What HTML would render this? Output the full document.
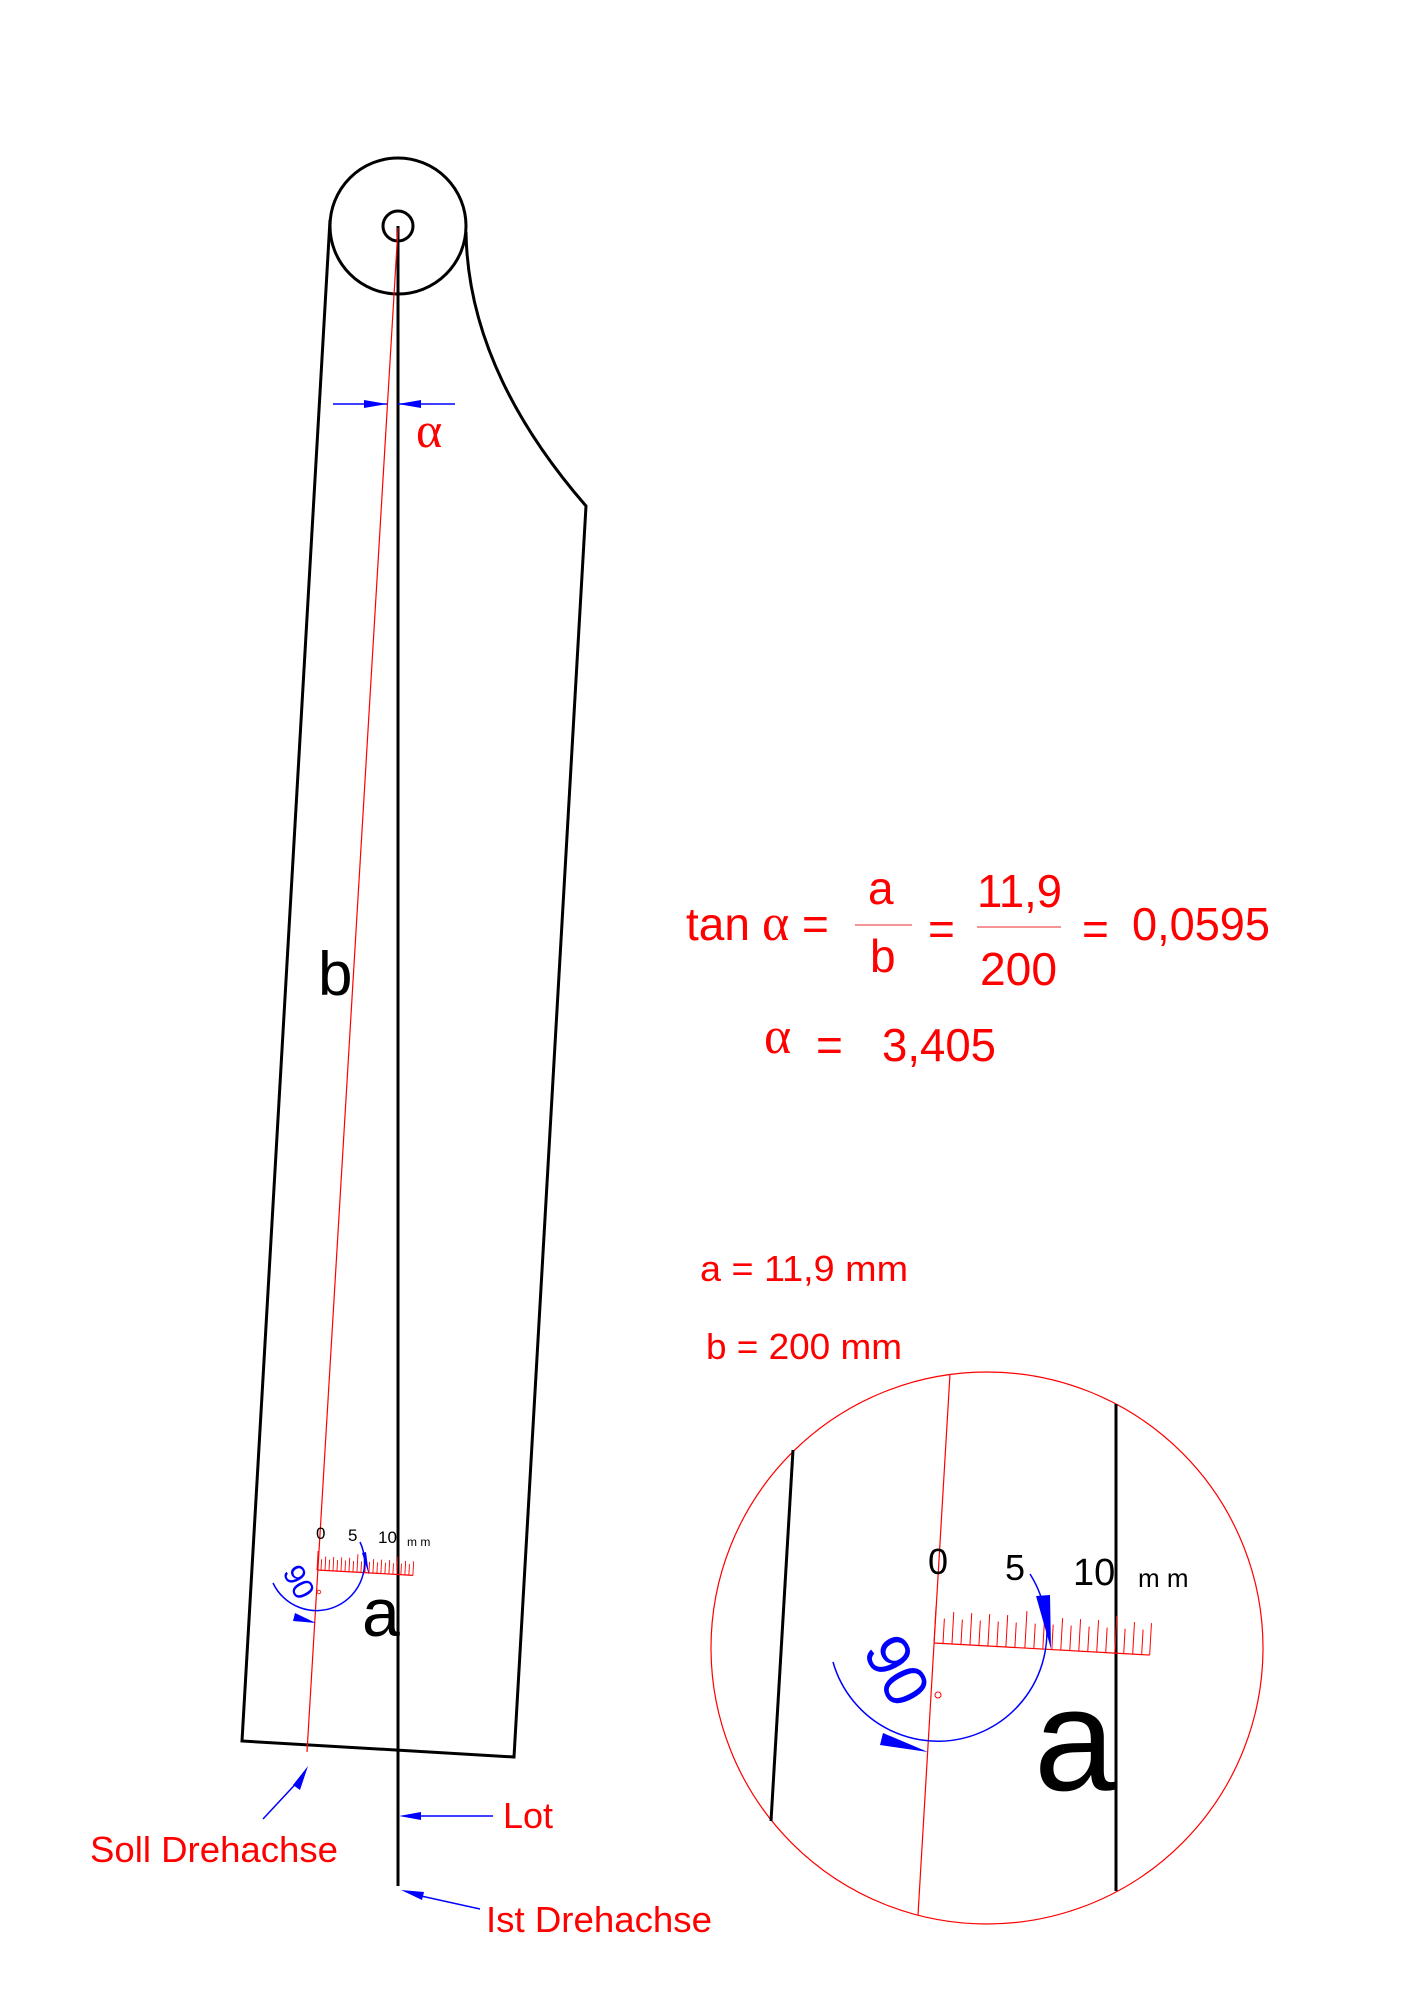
<!DOCTYPE html>
<html><head><meta charset="utf-8"><style>
html,body{margin:0;padding:0;background:#fff;}
svg{display:block;}
text{font-family:"Liberation Sans",Arial,sans-serif;}
</style></head><body>
<svg width="1414" height="2000" viewBox="0 0 1414 2000" xmlns="http://www.w3.org/2000/svg">
<rect width="1414" height="2000" fill="#fff"/>
<g fill="none" stroke="#000" stroke-width="3">
<circle cx="398" cy="226" r="68"/>
<circle cx="398" cy="226" r="15"/>
<path d="M330,220 L242,1741 L514,1757 L586,506 Q468,370 466,232"/>
<line x1="398" y1="226" x2="398" y2="1886"/>
</g>
<line x1="398" y1="228" x2="307" y2="1752" stroke="#f00" stroke-width="1.2"/>
<g stroke="#00f" stroke-width="1.5" fill="#00f">
<line x1="333" y1="404" x2="387" y2="404"/>
<polygon points="364,400 387,404 364,408" stroke="none"/>
<line x1="398" y1="404" x2="455" y2="404"/>
<polygon points="421,400 398,404 421,408" stroke="none"/>
</g>
<text x="416" y="447" font-size="50" fill="#f00" style="font-family:'Liberation Serif',serif">α</text>
<rect x="318" y="940" width="30" height="70" fill="#fff"/>
<text x="318" y="995" font-size="62" fill="#000">b</text>
<g transform="rotate(3.2 317 1570)">
<line x1="317" y1="1570" x2="413" y2="1570" stroke="#f00" stroke-width="1.2"/>
<g stroke="#f00" stroke-width="0.9">
<line x1="317" y1="1570" x2="317" y2="1551"/><line x1="321" y1="1570" x2="321" y2="1559"/><line x1="325" y1="1570" x2="325" y2="1556"/><line x1="329" y1="1570" x2="329" y2="1559"/><line x1="333" y1="1570" x2="333" y2="1556"/><line x1="337" y1="1570" x2="337" y2="1559"/><line x1="341" y1="1570" x2="341" y2="1556"/><line x1="345" y1="1570" x2="345" y2="1559"/><line x1="349" y1="1570" x2="349" y2="1556"/><line x1="353" y1="1570" x2="353" y2="1559"/><line x1="357" y1="1570" x2="357" y2="1552"/><line x1="361" y1="1570" x2="361" y2="1559"/><line x1="365" y1="1570" x2="365" y2="1556"/><line x1="369" y1="1570" x2="369" y2="1559"/><line x1="373" y1="1570" x2="373" y2="1556"/><line x1="377" y1="1570" x2="377" y2="1559"/><line x1="381" y1="1570" x2="381" y2="1556"/><line x1="385" y1="1570" x2="385" y2="1559"/><line x1="389" y1="1570" x2="389" y2="1556"/><line x1="393" y1="1570" x2="393" y2="1559"/><line x1="397" y1="1570" x2="397" y2="1552"/><line x1="401" y1="1570" x2="401" y2="1559"/><line x1="405" y1="1570" x2="405" y2="1556"/><line x1="409" y1="1570" x2="409" y2="1559"/><line x1="413" y1="1570" x2="413" y2="1556"/>
</g></g>
<text x="316" y="1539" font-size="17" fill="#000">0</text>
<text x="348" y="1541" font-size="17" fill="#000">5</text>
<text x="378" y="1543" font-size="17" fill="#000">10</text>
<text x="407" y="1546" font-size="12" fill="#000">m m</text>
<circle cx="319" cy="1592" r="1.8" fill="none" stroke="#f00" stroke-width="0.8"/>
<path d="M273,1583 A46,46 0 1 0 360,1542" fill="none" stroke="#00f" stroke-width="1.5"/>
<polygon points="295,1613 316,1623 293,1621" fill="#00f"/>
<polygon points="362,1553 369,1575 366,1552" fill="#00f"/>
<text x="0" y="0" font-size="30" fill="#00f" transform="translate(282,1572) rotate(62)">90</text>
<text x="362" y="1636" font-size="68" fill="#000">a</text>
<line x1="263" y1="1819" x2="303" y2="1776" stroke="#00f" stroke-width="1.5"/>
<polygon points="308,1766 300,1790 293,1785" fill="#00f"/>
<text x="90" y="1862" font-size="36" fill="#f00" textLength="248" lengthAdjust="spacingAndGlyphs">Soll Drehachse</text>
<line x1="410" y1="1816" x2="493" y2="1816" stroke="#00f" stroke-width="1.5"/>
<polygon points="399,1816 421,1812 421,1820" fill="#00f"/>
<text x="503" y="1828" font-size="36" fill="#f00">Lot</text>
<line x1="412" y1="1894" x2="480" y2="1909" stroke="#00f" stroke-width="1.5"/>
<polygon points="401,1890 424,1892 422,1900" fill="#00f"/>
<text x="486" y="1932" font-size="36" fill="#f00" textLength="226" lengthAdjust="spacingAndGlyphs">Ist Drehachse</text>
<g fill="#f00">
<text x="686" y="940" font-size="46">tan</text>
<text x="762" y="940" font-size="52" style="font-family:'Liberation Serif',serif">α</text>
<text x="802" y="940" font-size="46">=</text>
<line x1="855" y1="925" x2="912" y2="925" stroke="#e55" stroke-width="1.2"/>
<text x="868" y="904" font-size="46">a</text>
<text x="870" y="972" font-size="46">b</text>
<text x="928" y="945" font-size="46">=</text>
<line x1="977" y1="927" x2="1061" y2="927" stroke="#e55" stroke-width="1.2"/>
<text x="977" y="907" font-size="46" textLength="85" lengthAdjust="spacingAndGlyphs">11,9</text>
<text x="980" y="985" font-size="46" textLength="77" lengthAdjust="spacingAndGlyphs">200</text>
<text x="1082" y="945" font-size="46">=</text>
<text x="1132" y="940" font-size="46" textLength="138" lengthAdjust="spacingAndGlyphs">0,0595</text>
<text x="764" y="1053" font-size="52" style="font-family:'Liberation Serif',serif">α</text>
<text x="816" y="1061" font-size="46">=</text>
<text x="882" y="1061" font-size="46" textLength="114" lengthAdjust="spacingAndGlyphs">3,405</text>
<text x="700" y="1281" font-size="36" textLength="208" lengthAdjust="spacingAndGlyphs">a = 11,9 mm</text>
<text x="706" y="1359" font-size="36" textLength="196" lengthAdjust="spacingAndGlyphs">b = 200 mm</text>
</g>
<circle cx="987" cy="1648" r="276" fill="none" stroke="#f00" stroke-width="1.2"/>
<line x1="793" y1="1450" x2="771" y2="1821" stroke="#000" stroke-width="3"/>
<line x1="1116" y1="1404" x2="1116" y2="1891" stroke="#000" stroke-width="3"/>
<line x1="950" y1="1374" x2="918" y2="1915" stroke="#f00" stroke-width="1.2"/>
<g transform="rotate(3.2 934 1643)">
<line x1="934" y1="1643" x2="1150" y2="1643" stroke="#f00" stroke-width="1.2"/>
<g stroke="#f00" stroke-width="1">
<line x1="934" y1="1643" x2="934" y2="1606"/><line x1="943" y1="1643" x2="943" y2="1618"/><line x1="952" y1="1643" x2="952" y2="1611"/><line x1="961" y1="1643" x2="961" y2="1618"/><line x1="970" y1="1643" x2="970" y2="1611"/><line x1="979" y1="1643" x2="979" y2="1618"/><line x1="988" y1="1643" x2="988" y2="1611"/><line x1="997" y1="1643" x2="997" y2="1618"/><line x1="1006" y1="1643" x2="1006" y2="1611"/><line x1="1015" y1="1643" x2="1015" y2="1618"/><line x1="1025" y1="1643" x2="1025" y2="1606"/><line x1="1034" y1="1643" x2="1034" y2="1618"/><line x1="1043" y1="1643" x2="1043" y2="1611"/><line x1="1052" y1="1643" x2="1052" y2="1618"/><line x1="1061" y1="1643" x2="1061" y2="1611"/><line x1="1070" y1="1643" x2="1070" y2="1618"/><line x1="1079" y1="1643" x2="1079" y2="1611"/><line x1="1088" y1="1643" x2="1088" y2="1618"/><line x1="1097" y1="1643" x2="1097" y2="1611"/><line x1="1106" y1="1643" x2="1106" y2="1618"/><line x1="1115" y1="1643" x2="1115" y2="1606"/><line x1="1124" y1="1643" x2="1124" y2="1618"/><line x1="1133" y1="1643" x2="1133" y2="1611"/><line x1="1142" y1="1643" x2="1142" y2="1618"/><line x1="1150" y1="1643" x2="1150" y2="1611"/>
</g></g>
<text x="928" y="1574" font-size="36" fill="#000">0</text>
<text x="1005" y="1580" font-size="36" fill="#000">5</text>
<text x="1073" y="1585" font-size="38" fill="#000">10</text>
<text x="1138" y="1587" font-size="26" fill="#000">m m</text>
<circle cx="938" cy="1695" r="3" fill="none" stroke="#f00" stroke-width="1"/>
<path d="M833,1662 A109,109 0 1 0 1030,1574" fill="none" stroke="#00f" stroke-width="1.5"/>
<polygon points="883,1733 928,1752 880,1745" fill="#00f"/>
<polygon points="1036,1596 1051,1649 1050,1595" fill="#00f"/>
<text x="0" y="0" font-size="62" fill="#00f" transform="translate(862,1650) rotate(62)">90</text>
<text x="1034" y="1790" font-size="146" fill="#000">a</text>
</svg>
</body></html>
